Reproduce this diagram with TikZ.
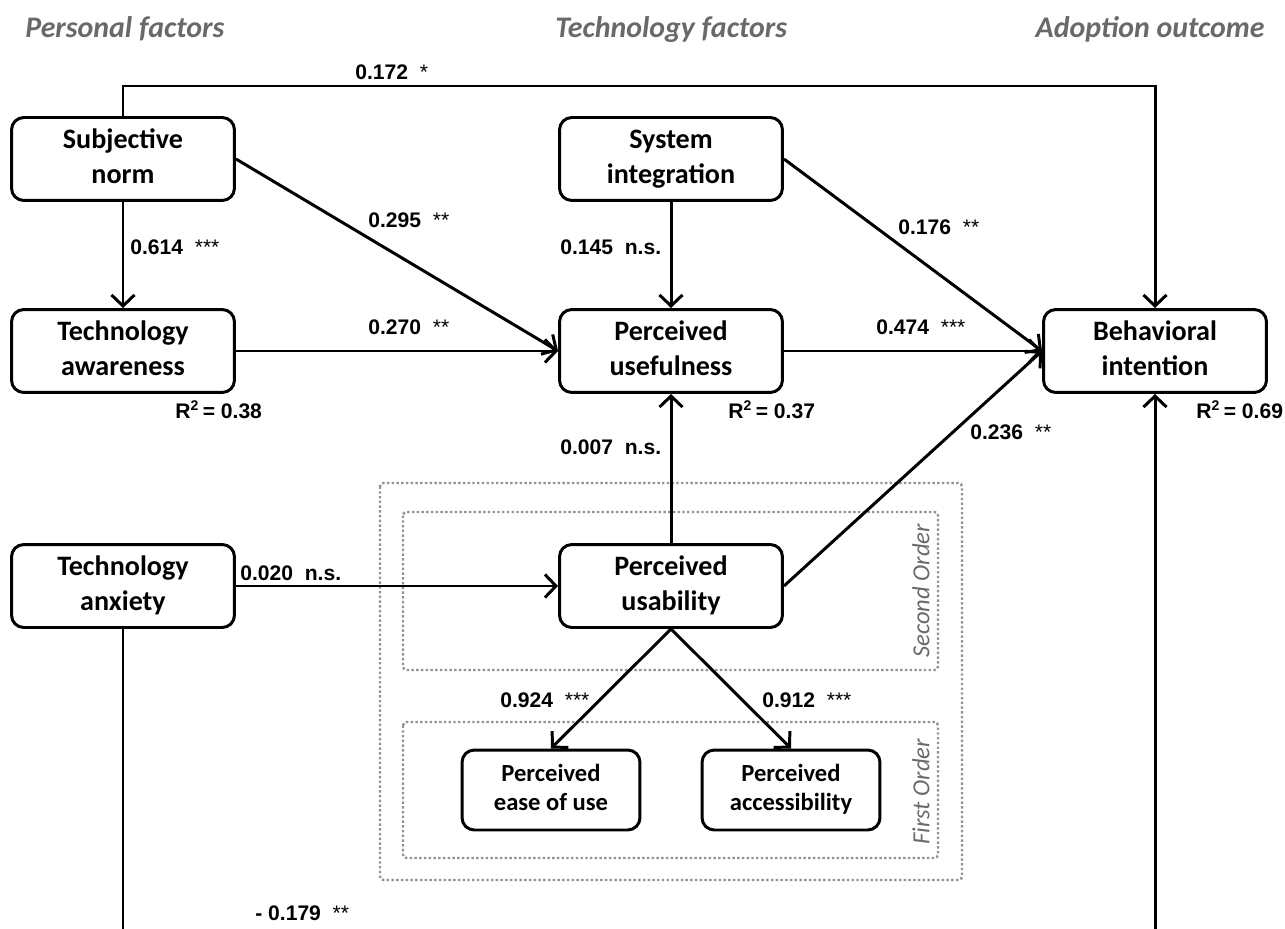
\documentclass[tikz,border=0pt]{standalone}
\usepackage{fontspec}
\setmainfont{Carlito}
\newfontfamily\numfont{Liberation Sans}
\usetikzlibrary{arrows.meta}

\definecolor{headgray}{RGB}{105,105,105}

% coefficient with stars
\newcommand{\coef}[2]{#1\ \ {\mdseries\fontsize{12}{12}\selectfont #2}}
% two-line construct name
\newcommand{\twoline}[2]{\strut #1\\\strut #2}

\tikzset{
    box/.style={draw, line width=1.7pt, rounded corners=7pt, align=center,
        minimum width=4.46cm, minimum height=1.66cm,
        font=\fontsize{16}{19.8}\selectfont\bfseries},
    smallbox/.style={box, minimum width=3.56cm, minimum height=1.6cm,
        font=\fontsize{14}{17}\selectfont\bfseries},
    arr/.style={line width=1.7pt, -{Straight Barb[length=2.2mm, width=4.6mm, line width=1.7pt]}},
    lbl/.style={anchor=west, inner sep=0pt, font=\numfont\fontsize{12}{14}\selectfont\bfseries},
    head/.style={inner sep=0pt, text=headgray, font=\fontsize{17}{20}\selectfont\bfseries\itshape},
    order/.style={inner sep=0pt, rotate=90, text=headgray, font=\fontsize{14}{16}\selectfont\itshape},
    dotbox/.style={gray!85, line width=1.4pt, dash pattern=on 1.4pt off 1.3pt, rounded corners=2pt}
}

\begin{document}
\begin{tikzpicture}[x=0.02cm, y=-0.02cm]

    % Frame
    \useasboundingbox (0,0) rectangle (1285,929);
    \clip (0,0) rectangle (1285,929);

    % Group headings
    \node[head, anchor=base west] (h-pers) at (25,38) {Personal factors};
    \node[head, anchor=base west] (h-tech) at (555,38) {Technology factors};
    \node[head, anchor=base east] (h-adop) at (1265,38) {Adoption outcome};

    % Order frames
    \draw[dotbox] (380,483) rectangle (962,880);
    \draw[dotbox] (403,512) rectangle (938,670);
    \draw[dotbox] (403,722) rectangle (938,858);
    \node[order] (o-second) at (921,591) {Second Order};
    \node[order] (o-first)  at (921,792) {First Order};

    % Constructs
    \node[box] (sn)  at (123,159)  {\twoline{Subjective}{norm}};
    \node[box] (ta)  at (123,351)  {\twoline{Technology}{awareness}};
    \node[box] (tax) at (123,586)  {\twoline{Technology}{anxiety}};
    \node[box] (si)  at (671,159)  {\twoline{System}{integration}};
    \node[box] (pu)  at (671,351)  {\twoline{Perceived}{usefulness}};
    \node[box] (pus) at (671,586)  {\twoline{Perceived}{usability}};
    \node[box] (bi)  at (1155,351) {\twoline{Behavioral}{intention}};
    \node[smallbox] (peou) at (551,790) {\twoline{Perceived}{ease of use}};
    \node[smallbox] (pac)  at (791,790) {\twoline{Perceived}{accessibility}};

    % Free ends
    \coordinate (top)     at (1155,86);
    \coordinate (tax-end) at (123,945);
    \coordinate (bi-end)  at (1155,945);

    % Paths
    \draw[arr] (sn.north) |- (top) -- (bi.north);
    \draw[arr] (sn) -- (ta);
    \draw[arr] (sn.east) -- (pu.west);
    \draw[arr] (ta) -- (pu);
    \draw[arr] (si) -- (pu);
    \draw[arr] (si.east) -- (bi.west);
    \draw[arr] (pu) -- (bi);
    \draw[arr] (pus) -- (pu);
    \draw[arr] (pus.east) -- (bi.west);
    \draw[arr] (tax) -- (pus);
    \draw[arr] (pus.south) -- (peou.north);
    \draw[arr] (pus.south) -- (pac.north);
    \draw[line width=1.7pt] (tax.south) -- (tax-end);
    \draw[arr] (bi-end) -- (bi.south);

    % Path coefficients
    \node[lbl] (c-sn-bi)    at (355,72)  {\coef{0.172}{*}};
    \node[lbl] (c-sn-ta)    at (130,247) {\coef{0.614}{***}};
    \node[lbl] (c-sn-pu)    at (368,220) {\coef{0.295}{**}};
    \node[lbl] (c-ta-pu)    at (368,327) {\coef{0.270}{**}};
    \node[lbl] (c-si-pu)    at (560,247) {0.145\ \ n.s.};
    \node[lbl] (c-si-bi)    at (898,227) {\coef{0.176}{**}};
    \node[lbl] (c-pu-bi)    at (876,327) {\coef{0.474}{***}};
    \node[lbl] (c-pus-pu)   at (560,447) {0.007\ \ n.s.};
    \node[lbl] (c-pus-bi)   at (970,432) {\coef{0.236}{**}};
    \node[lbl] (c-tax-pus)  at (240,573) {0.020\ \ n.s.};
    \node[lbl] (c-pus-peou) at (500,700) {\coef{0.924}{***}};
    \node[lbl] (c-pus-pac)  at (762,700) {\coef{0.912}{***}};
    \node[lbl] (c-tax-bi)   at (255,913) {- \coef{0.179}{**}};

    % Explained variance
    \node[lbl] (r-ta) at (175,410)  {R\textsuperscript{2}\,= 0.38};
    \node[lbl] (r-pu) at (728,410)  {R\textsuperscript{2}\,= 0.37};
    \node[lbl] (r-bi) at (1196,410) {R\textsuperscript{2}\,= 0.69};

\end{tikzpicture}
\end{document}
